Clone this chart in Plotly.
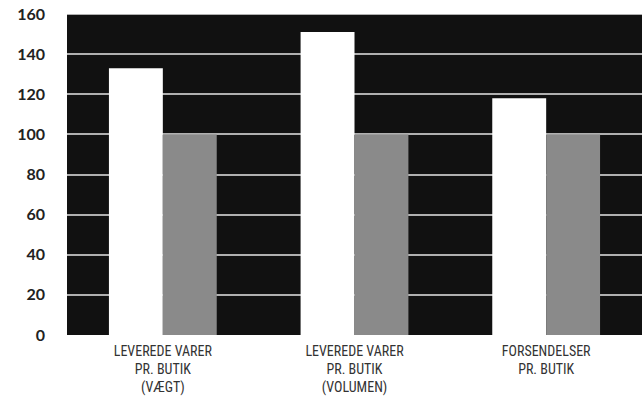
import plotly.graph_objects as go

categories = ["LEVEREDE VARER<br>PR. BUTIK<br>(VÆGT)",
              "LEVEREDE VARER<br>PR. BUTIK<br>(VOLUMEN)",
              "FORSENDELSER<br>PR. BUTIK"]
series_a = [133, 151, 118]
series_b = [100, 100, 100]
y_ticks = [0, 20, 40, 60, 80, 100, 120, 140, 160]

fig = go.Figure()
fig.add_trace(go.Bar(x=categories, y=series_a, marker=dict(color="#ffffff", line=dict(width=0)), showlegend=False))
fig.add_trace(go.Bar(x=categories, y=series_b, marker=dict(color="#8a8a8a", line=dict(width=0)), showlegend=False))

fig.update_layout(
    width=642, height=402,
    margin=dict(l=67, r=0, t=14, b=67),
    paper_bgcolor="#ffffff",
    plot_bgcolor="#111111",
    barmode="group",
    bargap=0.4375,
    bargroupgap=0,
    xaxis=dict(showgrid=False, tickfont=dict(family="Liberation Sans Narrow, Roboto Condensed, Liberation Sans", size=14, color="#333333"),
               ticks="", showline=False, ticklabelstandoff=6),
    yaxis=dict(range=[0, 160], tickvals=y_ticks, showgrid=True, gridcolor="#b0b0b0", gridwidth=2,
               tickfont=dict(family="Lato", size=16, color="#222222", weight="bold"),
               ticklabelstandoff=21, zeroline=False, showline=False),
)
fig.add_shape(type="line", xref="paper", yref="y", x0=0, x1=1, y0=160, y1=160, line=dict(color="#b0b0b0", width=2))
fig.write_html("out.html")
